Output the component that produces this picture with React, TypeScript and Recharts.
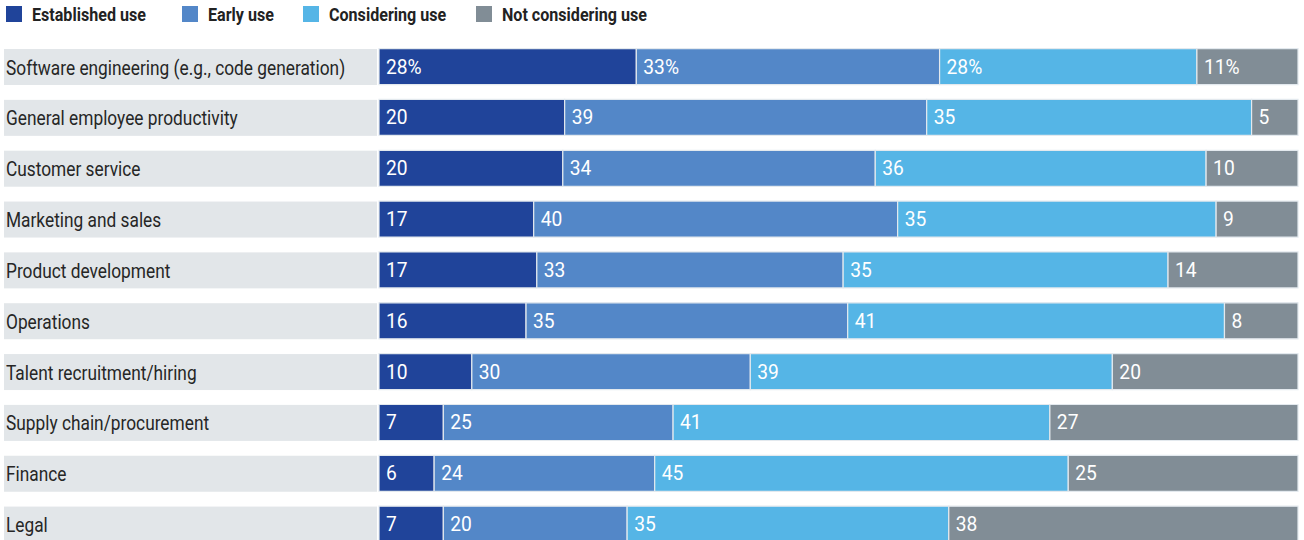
import React from "react";
import { BarChart, Bar, XAxis, YAxis, Legend, LabelList } from "recharts";

const categories = [
  "Software engineering (e.g., code generation)",
  "General employee productivity",
  "Customer service",
  "Marketing and sales",
  "Product development",
  "Operations",
  "Talent recruitment/hiring",
  "Supply chain/procurement",
  "Finance",
  "Legal",
];

const established = [28, 20, 20, 17, 17, 16, 10, 7, 6, 7];
const early = [33, 39, 34, 40, 33, 35, 30, 25, 24, 20];
const considering = [28, 35, 36, 35, 35, 41, 39, 41, 45, 35];
const notConsidering = [11, 5, 10, 9, 14, 8, 20, 27, 25, 38];

const series = [
  { key: "established", name: "Established use", color: "#20449a" },
  { key: "early", name: "Early use", color: "#5387c8" },
  { key: "considering", name: "Considering use", color: "#55b5e6" },
  { key: "notConsidering", name: "Not considering use", color: "#818d96" },
];

const data = categories.map((name, i) => ({
  name,
  established: established[i],
  early: early[i],
  considering: considering[i],
  notConsidering: notConsidering[i],
}));

// layout
const AXIS_WIDTH = 375;
const BAR_SIZE = 36;
const FONT = "Roboto, 'Noto Sans', sans-serif";
const LEGEND_X = [6, 182, 303, 476];

function CategoryTick(props: any) {
  const { x, y, payload } = props;
  const left = x - AXIS_WIDTH;
  return (
    <g>
      <rect x={left} y={y - BAR_SIZE / 2} width={AXIS_WIDTH - 2} height={BAR_SIZE} fill="#e2e6e9" />
      <text
        transform={`translate(${left + 2} ${y + 7.5}) scale(0.824 1)`}
        fontSize={21}
        fill="#262626"
        fontFamily={FONT}
      >
        {payload.value}
      </text>
    </g>
  );
}

const renderValue = (props: any) => {
  const { x, y, height, value, index } = props;
  const label = index === 0 ? `${value}%` : `${value}`;
  return (
    <text
      transform={`translate(${x + 7} ${y + height / 2 + 7}) scale(0.96 1)`}
      fontSize={20}
      fill="#ffffff"
      fontFamily={FONT}
    >
      {label}
    </text>
  );
};

const renderLegend = () => (
  <svg width={700} height={30}>
    {series.map((s, i) => (
      <g key={s.key} transform={`translate(${LEGEND_X[i]} 0)`}>
        <rect x={0} y={6} width={16} height={16} fill={s.color} />
        <text
          transform="translate(26 20.5) scale(0.87 1)"
          fontSize={18.5}
          fontWeight={700}
          fill="#222"
          fontFamily={FONT}
        >
          {s.name}
        </text>
      </g>
    ))}
  </svg>
);

export default function App() {
  return (
    <div style={{ position: "absolute", left: 0, top: 0, width: 1304, height: 540, overflow: "hidden", background: "#fff" }}>
      <BarChart
        width={1304}
        height={550}
        data={data}
        layout="vertical"
        stackOffset="expand"
        margin={{ top: 41.6, right: 6, bottom: 0, left: 4 }}
      >
        <XAxis type="number" hide domain={[0, 1]} />
        <YAxis
          type="category"
          dataKey="name"
          width={AXIS_WIDTH}
          axisLine={false}
          tickLine={false}
          tickSize={0}
          tickMargin={0}
          tick={<CategoryTick />}
          interval={0}
        />
        <Legend
          verticalAlign="middle"
          content={renderLegend}
          wrapperStyle={{ top: 0, left: 0, width: 700, height: 30 }}
        />
        {series.map((s) => (
          <Bar
            key={s.key}
            dataKey={s.key}
            name={s.name}
            stackId="a"
            fill={s.color}
            stroke="#e3e9ee"
            strokeWidth={1.2}
            barSize={BAR_SIZE}
            isAnimationActive={false}
          >
            <LabelList dataKey={s.key} content={renderValue} />
          </Bar>
        ))}
      </BarChart>
    </div>
  );
}
